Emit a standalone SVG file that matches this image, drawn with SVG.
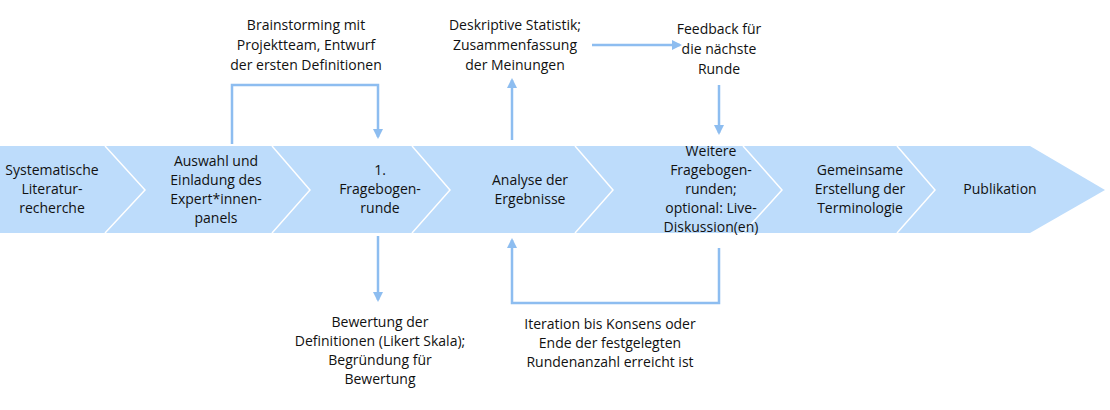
<svg xmlns="http://www.w3.org/2000/svg" width="1110" height="410" viewBox="0 0 1110 410">
<style>
text{font-family:"Open Sans","Liberation Sans",sans-serif;font-size:14px;fill:#111;text-anchor:middle}
.sep{fill:none;stroke:#fff;stroke-width:1.5}
.c{fill:none;stroke:#8dbdf0;stroke-width:2.5}
</style>
<defs><marker id="a" viewBox="0 0 10 10" refX="8" refY="5" markerWidth="4" markerHeight="4" orient="auto"><path d="M0,0L10,5L0,10z" fill="#8dbdf0"/></marker></defs>
<rect width="1110" height="410" fill="#fff"/>
<g id="band">
<polygon points="0,146 1030,146 1105,190 1030,233 0,233" fill="#bddcfb"/>
<polyline class="sep" points="105,146 145,190 105,233"/>
<polyline class="sep" points="272,146 310,190 272,233"/>
<polyline class="sep" points="412,146 450,190 412,233"/>
<polyline class="sep" points="575,146 613,190 575,233"/>
<polyline class="sep" points="743,146 782,190 743,233"/>
<polyline class="sep" points="897,146 935,190 897,233"/>
</g>
<g id="n1"><text x="52" y="175">Systematische</text><text x="52" y="194">Literatur-</text><text x="52" y="213">recherche</text></g>
<g id="n2"><text x="216" y="166">Auswahl und</text><text x="216" y="185">Einladung des</text><text x="216" y="204">Expert*innen-</text><text x="216" y="223">panels</text></g>
<g id="n3"><text x="380" y="175">1.</text><text x="380" y="194">Fragebogen-</text><text x="380" y="213">runde</text></g>
<g id="n4"><text x="530" y="185">Analyse der</text><text x="530" y="204">Ergebnisse</text></g>
<g id="n5"><text x="711" y="156">Weitere</text><text x="711" y="175">Fragebogen-</text><text x="711" y="194">runden;</text><text x="711" y="213">optional: Live-</text><text x="711" y="232">Diskussion(en)</text></g>
<g id="n6"><text x="860" y="175">Gemeinsame</text><text x="860" y="194">Erstellung der</text><text x="860" y="213">Terminologie</text></g>
<g id="n7"><text x="1000" y="194">Publikation</text></g>
<g id="l1"><text x="306" y="30">Brainstorming mit</text><text x="306" y="50">Projektteam, Entwurf</text><text x="306" y="70">der ersten Definitionen</text></g>
<g id="l2"><text x="515" y="30">Deskriptive Statistik;</text><text x="515" y="50">Zusammenfassung</text><text x="515" y="70">der Meinungen</text></g>
<g id="l3"><text x="719" y="34">Feedback für</text><text x="719" y="54">die nächste</text><text x="719" y="74">Runde</text></g>
<g id="l4"><text x="380" y="327">Bewertung der</text><text x="380" y="346">Definitionen (Likert Skala);</text><text x="380" y="365">Begründung für</text><text x="380" y="384">Bewertung</text></g>
<g id="l5"><text x="610" y="329">Iteration bis Konsens oder</text><text x="610" y="348">Ende der festgelegten</text><text x="610" y="367">Rundenanzahl erreicht ist</text></g>
<g id="connectors">
<polyline class="c" points="232,144 232,85 378,85 378,137" marker-end="url(#a)"/>
<line class="c" x1="378" y1="236" x2="378" y2="300" marker-end="url(#a)"/>
<line class="c" x1="512" y1="140" x2="512" y2="80" marker-end="url(#a)"/>
<line class="c" x1="592" y1="45" x2="680" y2="45" marker-end="url(#a)"/>
<line class="c" x1="719" y1="85" x2="719" y2="133" marker-end="url(#a)"/>
<polyline class="c" points="719,248 719,303 512,303 512,240" marker-end="url(#a)"/>
</g>
</svg>
